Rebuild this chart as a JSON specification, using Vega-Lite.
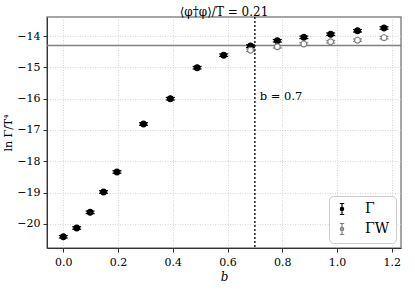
{
  "$schema": "https://vega.github.io/schema/vega-lite/v6.json",
  "autosize": "none",
  "width": 354,
  "height": 231,
  "padding": {"left": 47, "top": 17, "right": 14, "bottom": 49},
  "background": "white",
  "title": {"text": "⟨φ†φ⟩/T = 0.21", "font": "DejaVu Serif", "fontSize": 12, "fontWeight": "normal", "color": "#000000", "offset": 4, "dy": 7},
  "config": {
    "view": {"stroke": "#888888", "strokeWidth": 1.5},
    "legend": {"labelFont": "DejaVu Serif", "labelFontSize": 14, "labelColor": "black"}
  },
  "datasets": {
    "pts": [
      {"b": 0.0, "y": -20.41, "err": 0.04, "s": "Γ"},
      {"b": 0.049, "y": -20.13, "err": 0.04, "s": "Γ"},
      {"b": 0.098, "y": -19.63, "err": 0.04, "s": "Γ"},
      {"b": 0.147, "y": -18.98, "err": 0.04, "s": "Γ"},
      {"b": 0.196, "y": -18.34, "err": 0.04, "s": "Γ"},
      {"b": 0.293, "y": -16.81, "err": 0.04, "s": "Γ"},
      {"b": 0.391, "y": -16.0, "err": 0.04, "s": "Γ"},
      {"b": 0.489, "y": -15.01, "err": 0.04, "s": "Γ"},
      {"b": 0.586, "y": -14.61, "err": 0.04, "s": "Γ"},
      {"b": 0.684, "y": -14.32, "err": 0.04, "s": "Γ"},
      {"b": 0.782, "y": -14.15, "err": 0.04, "s": "Γ"},
      {"b": 0.879, "y": -14.04, "err": 0.04, "s": "Γ"},
      {"b": 0.977, "y": -13.94, "err": 0.04, "s": "Γ"},
      {"b": 1.075, "y": -13.83, "err": 0.04, "s": "Γ"},
      {"b": 1.172, "y": -13.74, "err": 0.04, "s": "Γ"},
      {"b": 0.684, "y": -14.45, "err": 0.04, "s": "ΓW"},
      {"b": 0.782, "y": -14.34, "err": 0.04, "s": "ΓW"},
      {"b": 0.879, "y": -14.25, "err": 0.04, "s": "ΓW"},
      {"b": 0.977, "y": -14.18, "err": 0.04, "s": "ΓW"},
      {"b": 1.075, "y": -14.13, "err": 0.04, "s": "ΓW"},
      {"b": 1.172, "y": -14.05, "err": 0.04, "s": "ΓW"}
    ],
    "one": [{"hline": -14.3, "vline": 0.7, "label": "b = 0.7", "lx": 0.718, "ly": -15.95}]
  },
  "layer": [
    {
      "data": {"name": "one"},
      "mark": {"type": "rule", "color": "#808080", "strokeWidth": 1.5},
      "encoding": {"y": {"field": "hline", "type": "quantitative"}}
    },
    {
      "data": {"name": "one"},
      "mark": {"type": "rule", "color": "#222222", "strokeWidth": 1.5, "strokeDash": [2, 2]},
      "encoding": {"x": {"field": "vline", "type": "quantitative"}}
    },
    {
      "data": {"name": "one"},
      "mark": {"type": "text", "font": "DejaVu Serif", "fontSize": 11.5, "align": "left", "baseline": "middle", "color": "black"},
      "encoding": {"x": {"field": "lx", "type": "quantitative"}, "y": {"field": "ly", "type": "quantitative"}, "text": {"field": "label"}}
    },
    {
      "data": {"name": "pts"},
      "transform": [
        {"calculate": "datum.y - datum.err", "as": "lo"},
        {"calculate": "datum.y + datum.err", "as": "hi"}
      ],
      "layer": [
        {
          "mark": {"type": "rule", "strokeWidth": 1.2},
          "encoding": {
            "x": {"field": "b", "type": "quantitative"},
            "y": {"field": "lo", "type": "quantitative"},
            "y2": {"field": "hi"},
            "stroke": {"field": "s", "type": "nominal"}
          }
        },
        {
          "mark": {"type": "rule", "strokeWidth": 1.2, "xOffset": -4.5, "x2Offset": 4.5},
          "encoding": {
            "x": {"field": "b", "type": "quantitative"},
            "x2": {"field": "b"},
            "y": {"field": "lo", "type": "quantitative"},
            "stroke": {"field": "s", "type": "nominal"}
          }
        },
        {
          "mark": {"type": "rule", "strokeWidth": 1.2, "xOffset": -4.5, "x2Offset": 4.5},
          "encoding": {
            "x": {"field": "b", "type": "quantitative"},
            "x2": {"field": "b"},
            "y": {"field": "hi", "type": "quantitative"},
            "stroke": {"field": "s", "type": "nominal"}
          }
        },
        {
          "mark": {"type": "point", "shape": "circle", "size": 34, "strokeWidth": 1.2, "opacity": 1},
          "encoding": {
            "x": {"field": "b", "type": "quantitative"},
            "y": {"field": "y", "type": "quantitative"},
            "stroke": {"field": "s", "type": "nominal"},
            "fill": {"field": "s", "type": "nominal", "scale": {"domain": ["Γ", "ΓW"], "range": ["black", "white"]}, "title": null}
          }
        }
      ],
      "encoding": {
        "stroke": {"field": "s", "type": "nominal", "scale": {"domain": ["Γ", "ΓW"], "range": ["black", "#808080"]}, "title": null, "legend": {"orient": "bottom-right", "offset": 5, "padding": 6, "fillColor": "white", "strokeColor": "#cccccc", "cornerRadius": 4, "symbolType": "M-0.4,-1H0.4M0,-1V1M-0.4,1H0.4M-0.3,0A0.3,0.3 0 1,0 0.3,0A0.3,0.3 0 1,0 -0.3,0Z", "symbolSize": 121, "symbolStrokeWidth": 1.2, "rowPadding": 4, "labelOffset": 16, "labelFont": "DejaVu Serif", "labelFontSize": 14}}
      }
    }
  ],
  "encoding": {
    "x": {"type": "quantitative", "title": "b", "scale": {"domain": [-0.0596, 1.234], "nice": false, "zero": false}, "axis": {"values": [0, 0.2, 0.4, 0.6, 0.8, 1.0, 1.2], "format": ".1f", "labelFont": "DejaVu Serif", "labelFontSize": 11, "labelColor": "black", "titleFont": "DejaVu Serif", "titleFontSize": 12, "titleFontWeight": "normal", "titleColor": "black", "titleFontStyle": "italic", "labelPadding": 4, "titlePadding": 4, "gridColor": "#cccccc", "gridDash": [1, 1.5], "gridWidth": 0.8, "domainColor": "#333333", "tickColor": "#333333", "tickSize": 4, "labelOverlap": false}},
    "y": {"type": "quantitative", "title": "ln Γ/T⁴", "scale": {"domain": [-20.77, -13.39], "nice": false, "zero": false}, "axis": {"values": [-20, -19, -18, -17, -16, -15, -14], "labelFont": "DejaVu Serif", "labelFontSize": 11, "labelColor": "black", "titleFont": "DejaVu Serif", "titleFontSize": 11, "titleFontWeight": "normal", "titleColor": "black", "labelPadding": 3, "titlePadding": 3, "gridColor": "#cccccc", "gridDash": [1, 1.5], "gridWidth": 0.8, "domainColor": "#333333", "tickColor": "#333333", "tickSize": 4, "labelOverlap": false}}
  }
}
